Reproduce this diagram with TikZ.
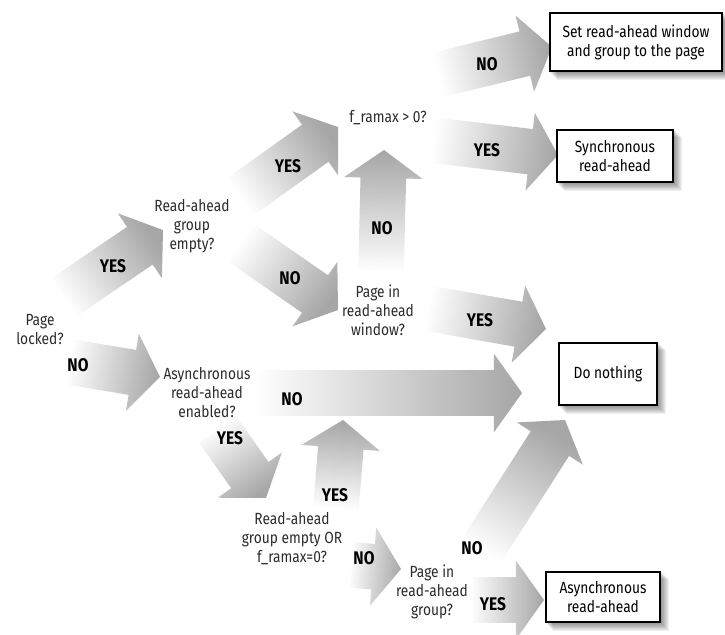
\documentclass[tikz,border=0pt]{standalone}
\usepackage{fontspec}
\setmainfont{Fira Sans}[FakeStretch=0.85]
\usepackage{tikz}
\usetikzlibrary{calc,backgrounds}
\definecolor{ArrowGray}{HTML}{A6A6A6}
\definecolor{TextGray}{HTML}{2B2B2B}
\newcommand{\qfont}{\fontsize{11.5}{13.5}\selectfont}
\newcommand{\afont}{\fontsize{13}{15}\selectfont\bfseries}
\newcommand{\shaftw}{0.57cm}
\newcommand{\headw}{0.98cm}
\newcommand{\headlen}{0.7cm}
% fat shaded arrow from tail #1 to tip #2
\newcommand{\fatarrow}[2]{%
  \coordinate (fa-t) at (#1);
  \coordinate (fa-h) at (#2);
  \coordinate (fa-n) at ($(fa-h)!\headlen!(fa-t)$);
  \pgfmathanglebetweenpoints{\pgfpointanchor{fa-t}{center}}{\pgfpointanchor{fa-h}{center}}%
  \pgfmathsetmacro{\faang}{\pgfmathresult-90}%
  \path[fat, shading angle=\faang]
    ($(fa-t)!\shaftw!90:(fa-h)$) -- ($(fa-n)!\shaftw!-90:(fa-t)$)
    -- ($(fa-n)!\headw!-90:(fa-t)$) -- (fa-h)
    -- ($(fa-n)!\headw!90:(fa-t)$) -- ($(fa-n)!\shaftw!90:(fa-t)$)
    -- ($(fa-t)!\shaftw!-90:(fa-h)$) -- cycle;
}
\begin{document}
\begin{tikzpicture}[x=0.025cm, y=-0.025cm,
  fat/.style={shade, top color=ArrowGray, bottom color=white},
  quest/.style={align=center, font=\qfont, text=TextGray, inner sep=0pt},
  answer/.style={font=\afont, inner sep=0pt},
  outcome/.style={draw, line width=1.4pt, fill=white, align=center, font=\qfont, inner sep=0pt},
  softshadow/.style={fill=black, opacity=0.06},
]
\useasboundingbox (0,0) rectangle (725,635);

% arrows
\fatarrow{63,298}{163,230}
\fatarrow{240,197}{338,127}
\fatarrow{240,242}{338,310}
\fatarrow{437,75}{552,47}
\fatarrow{432,140}{558,155}
\fatarrow{381,272}{384,150}
\fatarrow{426,308}{546,329}
\fatarrow{70,362}{160,377}
\fatarrow{255,393}{522,393}
\fatarrow{218,430}{266,498}
\fatarrow{336,508}{343,420}
\fatarrow{352,565}{401,569}
\fatarrow{478,556}{565,420}
\fatarrow{470,600}{544,600}

% questions
\node[quest] (locked) at (40,330) {Page\\locked?};
\node[quest] (rgempty) at (192,226) {Read-ahead\\group\\empty?};
\node[quest] (ramax) at (388,118) {f\_ramax > 0?};
\node[quest] (inwin) at (378,310) {Page in\\read-ahead\\window?};
\node[quest] (asyncen) at (207,393) {Asynchronous\\read-ahead\\enabled?};
\node[quest] (rgor) at (292,539) {Read-ahead\\group empty OR\\f\_ramax=0?};
\node[quest] (ingrp) at (432,592) {Page in\\read-ahead\\group?};

% outcomes
\node[outcome, minimum width=4.3cm, minimum height=1.47cm] (setwin) at (636,42) {Set read-ahead window\\and group to the page};
\node[outcome, minimum width=2.92cm, minimum height=1.3cm] (sync) at (615,156) {Synchronous\\read-ahead};
\node[outcome, minimum width=2.45cm, minimum height=1.55cm] (nothing) at (608,374) {Do nothing};
\node[outcome, minimum width=2.85cm, minimum height=1.25cm] (async) at (603,597) {Asynchronous\\read-ahead};

% shadows
\begin{scope}[on background layer]
  \foreach \b in {setwin,sync,nothing,async}
    \foreach \s in {1,...,8}
      \fill[softshadow] ($(\b.north west)+(\s,\s)$) rectangle ($(\b.south east)+(\s,\s)$);
\end{scope}

% answers
\node[answer] (y1) at (113,266) {YES};
\node[answer] (y2) at (288,166) {YES};
\node[answer] (n1) at (290,278) {NO};
\node[answer] (n2) at (487,64) {NO};
\node[answer] (y3) at (487,150) {YES};
\node[answer] (n3) at (382,228) {NO};
\node[answer] (y4) at (480,320) {YES};
\node[answer] (n4) at (78,365) {NO};
\node[answer] (n5) at (292,399) {NO};
\node[answer] (y5) at (230,438) {YES};
\node[answer] (y6) at (335,495) {YES};
\node[answer] (n6) at (364,558) {NO};
\node[answer] (n7) at (472,548) {NO};
\node[answer] (y7) at (493,604) {YES};
\end{tikzpicture}
\end{document}
